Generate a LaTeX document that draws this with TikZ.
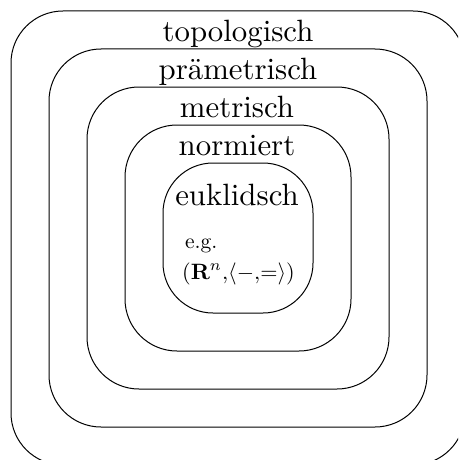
\documentclass[tikz,border=0pt]{standalone}
\usepackage{graphicx}
\usepackage{amsmath}
\newcommand\levelfont[1]{\scalebox{3.08}{#1}}
\newcommand\notefont[1]{\scalebox{2.15}{#1}}
\newcommand\pairfont[1]{\scalebox{2.22}{#1}}
\begin{document}
\begin{tikzpicture}[x=1pt,y=-1pt,
    level/.style={draw=black, line width=1pt, rounded corners=52pt,
      minimum width=#1, minimum height=#1, inner sep=0pt, fill=none},
    levelname/.style={anchor=base, inner sep=0pt},
    note/.style={anchor=base west, inner sep=0pt}]
  \useasboundingbox (0,0) rectangle (458,460);
  \clip (0,0) rectangle (458,460);
  % nested classes of spaces, outermost first
  \node[level=454pt] (top) at (238,238) {};
  \node[level=378pt] (pre) at (238,238) {};
  \node[level=302pt] (met) at (238,238) {};
  \node[level=226pt] (nor) at (238,238) {};
  \node[level=150pt, rounded corners=50pt] (euk) at (238,238) {};
  % class names
  \node[levelname] (ltop) at (238,41.5) {\levelfont{topologisch}};
  \node[levelname] (lpre) at (238,79.5) {\levelfont{pr\"ametrisch}};
  \node[levelname] (lmet) at (237,117) {\levelfont{metrisch}};
  \node[levelname] (lnor) at (237,155) {\levelfont{normiert}};
  \node[levelname] (leuk) at (237,205) {\levelfont{euklidsch}};
  % example
  \node[note] (eg) at (185,248) {\notefont{e.g.}};
  \node[note] (ex) at (182,279) {\pairfont{$(\mathbf{R}^n{,}\langle -{,}{=}\rangle)$}};
\end{tikzpicture}
\end{document}
